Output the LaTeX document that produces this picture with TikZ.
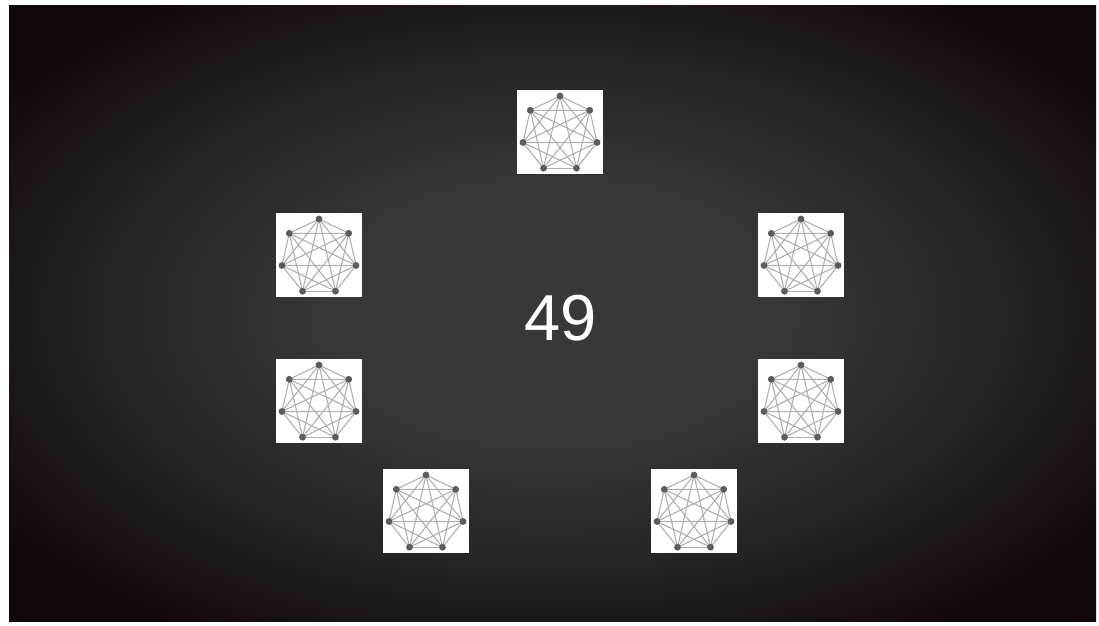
\documentclass[tikz,border=0pt]{standalone}
\usepackage{fontspec}
\setmainfont{Liberation Sans}
\usepackage{tikz}
\usetikzlibrary{positioning}
\definecolor{bgcenter}{HTML}{383838}
\definecolor{bgmid}{HTML}{252323}
\definecolor{bgedge}{HTML}{120808}
\definecolor{edgegray}{HTML}{B0B0B0}
\definecolor{dotgray}{HTML}{5C5C5C}
\pgfdeclareradialshading{vignette}{\pgfpoint{0bp}{0bp}}{color(0bp)=(bgcenter); color(10bp)=(bgcenter); color(21bp)=(bgmid); color(31bp)=(bgedge); color(50bp)=(bgedge)}

\tikzset{
  graphbox/.style={fill=white,minimum width=86,minimum height=84,inner sep=0pt},
  graphedge/.style={draw=edgegray,line width=1.1pt},
  graphdot/.style={fill=dotgray},
  heptagraph/.pic={
    \begin{scope}[shift={(0,2)}]
      \foreach \k in {0,...,6}
        \coordinate (-v\k) at ({-90+\k*360/7}:38);
    \end{scope}
    \foreach \a in {0,...,6}
      \foreach \b in {\a,...,6}
        \draw[graphedge] (-v\a) -- (-v\b);
    \foreach \k in {0,...,6}
      \fill[graphdot] (-v\k) circle (3.4);
  }
}

\begin{document}
\begin{tikzpicture}[x=1pt,y=-1pt, every node/.style={align=center}]
  \useasboundingbox (0,0) rectangle (1099,625);
  \fill[white] (0,0) rectangle (1099,625);
  \shade[shading=vignette] (9,5) rectangle (1096,621);

  % the seven graphs
  \node[graphbox] (top) at (560,132) {};
  \node[graphbox] (upleft) at (319,255) {};
  \node[graphbox] (upright) at (801,255) {};
  \node[graphbox] (lowleft) at (319,401) {};
  \node[graphbox] (lowright) at (801,401) {};
  \node[graphbox] (botleft) at (426,511) {};
  \node[graphbox] (botright) at (694,511) {};
  \foreach \n in {top,upleft,upright,lowleft,lowright,botleft,botright}
    \pic (g\n) at (\n) {heptagraph};

  \node[text=white,font=\fontsize{65}{65}\selectfont] (count) at (561,318) {49};
\end{tikzpicture}
\end{document}
